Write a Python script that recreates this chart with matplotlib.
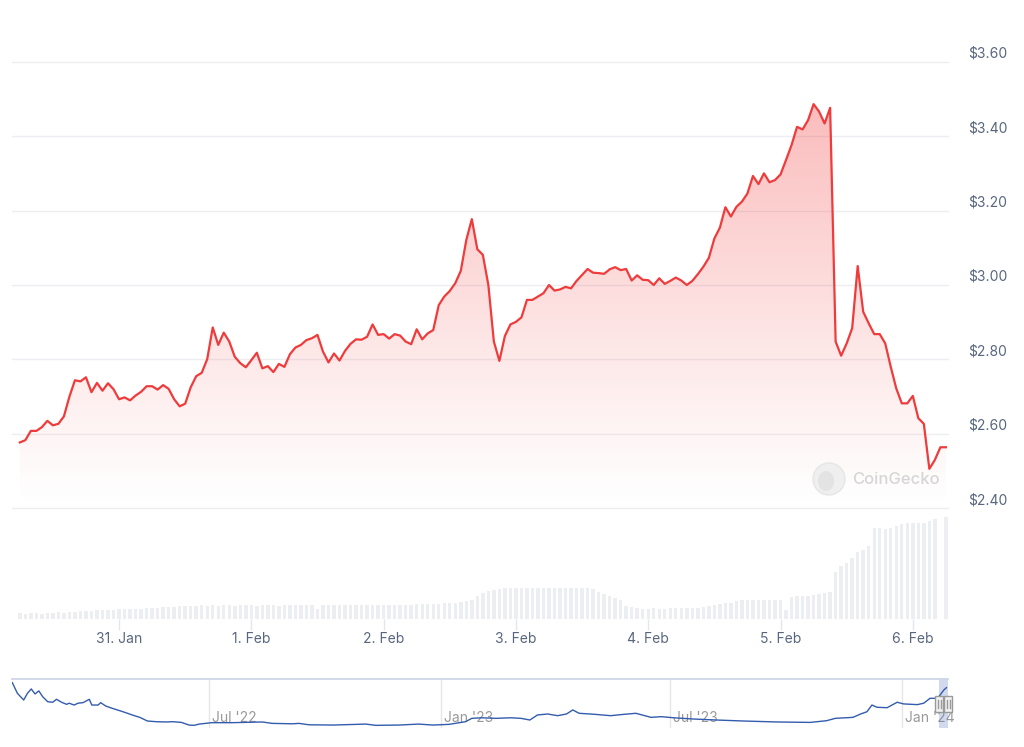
import matplotlib
matplotlib.use('Agg')
import matplotlib.pyplot as plt
import matplotlib.dates as mdates
import numpy as np
import pandas as pd
from matplotlib.transforms import ScaledTranslation, blended_transform_factory
from matplotlib.patches import Rectangle, Ellipse
from matplotlib.lines import Line2D

plt.rcParams['font.family'] = ['Inter', 'DejaVu Sans']

# ---------------- data ----------------
price_start = '2024-01-30 06:00'
prices = [
    2.577, 2.583, 2.608, 2.608, 2.618, 2.635, 2.623, 2.627, 2.647, 2.700,
    2.744, 2.741, 2.752, 2.712, 2.737, 2.716, 2.736, 2.720, 2.693, 2.698,
    2.690, 2.703, 2.713, 2.728, 2.728, 2.719, 2.731, 2.721, 2.693, 2.674,
    2.681, 2.725, 2.755, 2.764, 2.801, 2.886, 2.839, 2.872, 2.848, 2.807,
    2.790, 2.779, 2.798, 2.818, 2.776, 2.782, 2.766, 2.788, 2.780, 2.814,
    2.832, 2.839, 2.852, 2.857, 2.866, 2.821, 2.792, 2.816, 2.797, 2.823,
    2.842, 2.854, 2.853, 2.861, 2.894, 2.866, 2.868, 2.856, 2.868, 2.864,
    2.848, 2.841, 2.881, 2.854, 2.870, 2.879, 2.946, 2.969, 2.984, 3.005,
    3.038, 3.121, 3.177, 3.096, 3.081, 3.000, 2.848, 2.796, 2.863, 2.894,
    2.901, 2.913, 2.960, 2.960, 2.969, 2.978, 3.000, 2.985, 2.988, 2.995,
    2.991, 3.011, 3.027, 3.043, 3.033, 3.032, 3.030, 3.042, 3.048, 3.040,
    3.043, 3.012, 3.026, 3.014, 3.013, 3.000, 3.018, 3.003, 3.011, 3.020,
    3.012, 3.000, 3.011, 3.029, 3.049, 3.073, 3.125, 3.154, 3.209, 3.184,
    3.210, 3.224, 3.246, 3.293, 3.271, 3.300, 3.276, 3.282, 3.297, 3.336,
    3.376, 3.425, 3.418, 3.443, 3.486, 3.466, 3.434, 3.476, 2.848, 2.810,
    2.843, 2.884, 3.051, 2.928, 2.897, 2.868, 2.868, 2.843, 2.780, 2.722,
    2.682, 2.682, 2.702, 2.642, 2.627, 2.506, 2.530, 2.564, 2.564,
]
volumes = [
    6, 5, 6, 6, 5, 6, 6, 7, 6, 7, 7,
    8, 8, 8, 9, 9, 9, 9, 10, 10, 10,
    10, 10, 11, 11, 11, 12, 12, 12, 13, 13, 13, 13, 14, 13,
    14, 13, 14, 14, 13, 14, 14, 14, 13, 14, 14, 14, 13,
    14, 14, 14, 14, 14, 14, 10, 14, 14, 14, 14, 14, 14,
    14, 14, 14, 14, 14, 14, 14, 14, 14, 14, 14, 15, 15, 15, 15,
    15, 16, 16, 16, 17, 18, 19, 23, 26, 28, 29, 30, 31,
    31, 31, 31, 31, 31, 31, 31, 31, 31, 31, 31, 31, 31, 31, 31, 30,
    27, 25, 23, 21, 19,
    13, 12, 11, 10, 10, 11, 10, 10, 11, 11, 11, 11, 11, 11,
    12, 13, 14, 15, 16, 16, 18, 19, 19, 19, 19, 19, 19, 19, 19,
    9, 22, 23, 23, 23, 24, 25, 26, 27,
    47, 53, 56, 61, 67, 69, 73,
    91, 91, 90, 91, 93, 95, 96, 96, 96, 96, 98, 100, 0, 102,
]
price_ticks = [2.40, 2.60, 2.80, 3.00, 3.20, 3.40, 3.60]
price_tick_labels = ['$2.40', '$2.60', '$2.80', '$3.00', '$3.20', '$3.40', '$3.60']

nav_dates = [
    '2022-01-26', '2022-01-30', '2022-02-04', '2022-02-07', '2022-02-10', '2022-02-13',
    '2022-02-16', '2022-02-19', '2022-02-23', '2022-02-27', '2022-03-02', '2022-03-06',
    '2022-03-10', '2022-03-12', '2022-03-16', '2022-03-19', '2022-03-23', '2022-03-28',
    '2022-03-30', '2022-04-04', '2022-04-06', '2022-04-10', '2022-04-15', '2022-04-21',
    '2022-04-26', '2022-05-01', '2022-05-07', '2022-05-13', '2022-05-20', '2022-05-28',
    '2022-06-02', '2022-06-09', '2022-06-15', '2022-06-19', '2022-06-23', '2022-07-03',
    '2022-07-19', '2022-08-12', '2022-08-20', '2022-09-05', '2022-09-10', '2022-09-18',
    '2022-10-07', '2022-11-02', '2022-11-10', '2022-11-28', '2022-12-14', '2022-12-25',
    '2023-01-07', '2023-01-20', '2023-01-25', '2023-02-02', '2023-02-13', '2023-02-25',
    '2023-03-05', '2023-03-12', '2023-03-18', '2023-03-26', '2023-04-03', '2023-04-10',
    '2023-04-15', '2023-04-20', '2023-05-02', '2023-05-15', '2023-05-26', '2023-06-04',
    '2023-06-16', '2023-06-24', '2023-07-04', '2023-07-20', '2023-08-07', '2023-08-28',
    '2023-09-24', '2023-10-20', '2023-11-02', '2023-11-09', '2023-11-23', '2023-11-29',
    '2023-12-04', '2023-12-08', '2023-12-12', '2023-12-20', '2023-12-28', '2024-01-02',
    '2024-01-13', '2024-01-18', '2024-01-23', '2024-01-29', '2024-02-03', '2024-02-05',
]
nav_values = [
    3.30, 2.54, 2.06, 2.54, 2.85, 2.49,
    2.71, 2.30, 1.94, 1.90, 2.11, 1.90,
    1.75, 1.83, 1.70, 1.83, 1.87, 2.11,
    1.70, 1.70, 1.87, 1.63, 1.47, 1.30,
    1.15, 0.99, 0.82, 0.56, 0.51, 0.49,
    0.51, 0.46, 0.27, 0.25, 0.34, 0.44,
    0.44, 0.49, 0.39, 0.36, 0.39, 0.29,
    0.27, 0.34, 0.25, 0.27, 0.34, 0.27,
    0.32, 0.51, 0.75, 0.79, 0.75, 0.79,
    0.75, 0.63, 0.99, 1.06, 0.94, 1.06,
    1.35, 1.11, 1.04, 0.94, 1.04, 1.11,
    0.82, 0.87, 0.79, 0.70, 0.63, 0.56,
    0.49, 0.46, 0.58, 0.75, 0.82, 1.06,
    1.22, 1.70, 1.54, 1.51, 1.90, 1.78,
    1.73, 1.83, 2.18, 2.18, 2.78, 2.94,
]
nav_label_dates = ['2022-07-01', '2023-01-01', '2023-07-01', '2024-01-01']
nav_labels = ["Jul '22", "Jan '23", "Jul '23", "Jan '24"]
selection = ('2024-01-30 06:00', '2024-02-06 06:00')

# ---------------- figure ----------------
W, H, DPI = 1024, 747, 100
fig = plt.figure(figsize=(W / DPI, H / DPI), dpi=DPI, facecolor='white')

def ax_rect(x0, y_top, x1, y_bot):
    return [x0 / W, 1 - y_bot / H, (x1 - x0) / W, (y_bot - y_top) / H]

ax = fig.add_axes(ax_rect(12, 61.7, 948, 508.3))
axv = fig.add_axes(ax_rect(12, 508.3, 948, 619.3))
axn = fig.add_axes(ax_rect(12, 679, 948, 728))

times = pd.date_range(price_start, periods=len(prices), freq='h')
tnum = mdates.date2num(times)
xlim = (mdates.date2num(pd.Timestamp('2024-01-30 04:35')),
        mdates.date2num(pd.Timestamp('2024-02-06 06:23')))

label_col = '#58667e'
grid_col = '#eceef2'

# price panel
for t in price_ticks:
    ax.axhline(t, color=grid_col, lw=1.0, zorder=0, clip_on=False)

poly = ax.fill_between(tnum, prices, 2.4, color='none', lw=0)
n = 256
rgba = np.zeros((n, 1, 4))
rgba[..., 0] = 0.96
rgba[..., 1] = 0.27
rgba[..., 2] = 0.27
rgba[..., 3] = (np.linspace(0.0, 1.0, n) ** 1.1 * 0.40)[:, None]
im = ax.imshow(rgba, extent=[tnum[0], tnum[-1], 2.4, 3.6], origin='lower',
               aspect='auto', zorder=1, interpolation='bilinear')
im.set_clip_path(poly.get_paths()[0], transform=ax.transData)
ax.plot(tnum, prices, color='#ef3b3b', lw=1.6, zorder=3, solid_joinstyle='round')

ax.set_xlim(*xlim)
ax.set_ylim(2.4, 3.6)
ax.set_xticks([])
ax.set_yticks([])
for s in ax.spines.values():
    s.set_visible(False)
ax.patch.set_alpha(0)

lbl_trans = blended_transform_factory(ax.transAxes, ax.transData) + \
    ScaledTranslation(0, 8 / DPI, fig.dpi_scale_trans)
for t, lab in zip(price_ticks, price_tick_labels):
    ax.text((968 - 12) / 936, t, lab, transform=lbl_trans, ha='left', va='center',
            fontsize=10, color=label_col, clip_on=False)

# watermark
ax.add_patch(Ellipse(((829 - 12) / 936, (508.3 - 479) / 446.6), 32 / 936, 32 / 446.6,
                     transform=ax.transAxes, facecolor='#efefef', edgecolor='#e6e6e6',
                     lw=1, zorder=2))
ax.add_patch(Ellipse(((826 - 12) / 936, (508.3 - 481) / 446.6), 16 / 936, 20 / 446.6,
                     transform=ax.transAxes, facecolor='#e3e3e3', edgecolor='none',
                     zorder=2))
ax.text((852 - 12) / 936, (508.3 - 479) / 446.6, 'CoinGecko', transform=ax.transAxes,
        ha='left', va='center', fontsize=12, color='#d6d6d6', fontweight='medium',
        zorder=2)

# volume panel
axv.bar(tnum, volumes, width=0.62 / 24, color='#eceef2', lw=0, zorder=1)
axv.set_xlim(*xlim)
axv.set_ylim(0, 111)
axv.set_yticks([])
for s in axv.spines.values():
    s.set_visible(False)
axv.xaxis.set_major_locator(mdates.DayLocator())
axv.xaxis.set_major_formatter(mdates.DateFormatter('%-d. %b'))
axv.tick_params(axis='x', length=8, width=1, color='#e3e6eb', labelcolor=label_col,
                labelsize=10, pad=1.5)
axv.patch.set_alpha(0)

# navigator
nd = mdates.date2num(pd.to_datetime(nav_dates))
nlim = (mdates.date2num(pd.Timestamp('2022-01-25 18:00')),
        mdates.date2num(pd.Timestamp('2024-02-06 06:00')))
for d, lab in zip(nav_label_dates, nav_labels):
    dn = mdates.date2num(pd.Timestamp(d))
    axn.axvline(dn, color='#e6e6e6', lw=1, zorder=0)
    axn.text(dn, 0.2, lab, transform=blended_transform_factory(axn.transData, axn.transAxes)
             + ScaledTranslation(3 / DPI, 0, fig.dpi_scale_trans),
             ha='left', va='center', fontsize=10, color='#999999', zorder=1)
axn.plot(nd, nav_values, color='#335cad', lw=1.0, zorder=2)
s0 = mdates.date2num(pd.Timestamp(selection[0]))
s1 = mdates.date2num(pd.Timestamp(selection[1]))
axn.axvspan(s0, s1, facecolor=(102 / 255, 133 / 255, 194 / 255, 0.3), lw=0, zorder=1)
axn.set_xlim(*nlim)
axn.set_ylim(0.06, 3.56)
axn.set_xticks([])
axn.set_yticks([])
for k, s in axn.spines.items():
    s.set_visible(k == 'top')
axn.spines['top'].set_color('#cfd6e8')
axn.spines['top'].set_linewidth(1.3)

bt = blended_transform_factory(axn.transData, axn.transAxes)
for sx in (s0, s1):
    tr = fig.dpi_scale_trans + ScaledTranslation(sx, 0.5, bt)
    axn.add_patch(Rectangle((-4 / DPI, -8 / DPI), 8 / DPI, 16 / DPI, transform=tr,
                            facecolor='#f2f2f2', edgecolor='#999999', lw=1,
                            zorder=5, clip_on=False))
    for gx in (-1.5, 1.5):
        axn.add_line(Line2D([gx / DPI, gx / DPI], [-4 / DPI, 4 / DPI], transform=tr,
                            color='#999999', lw=1, zorder=6, clip_on=False))

fig.savefig('out.png', dpi=DPI, facecolor='white')
